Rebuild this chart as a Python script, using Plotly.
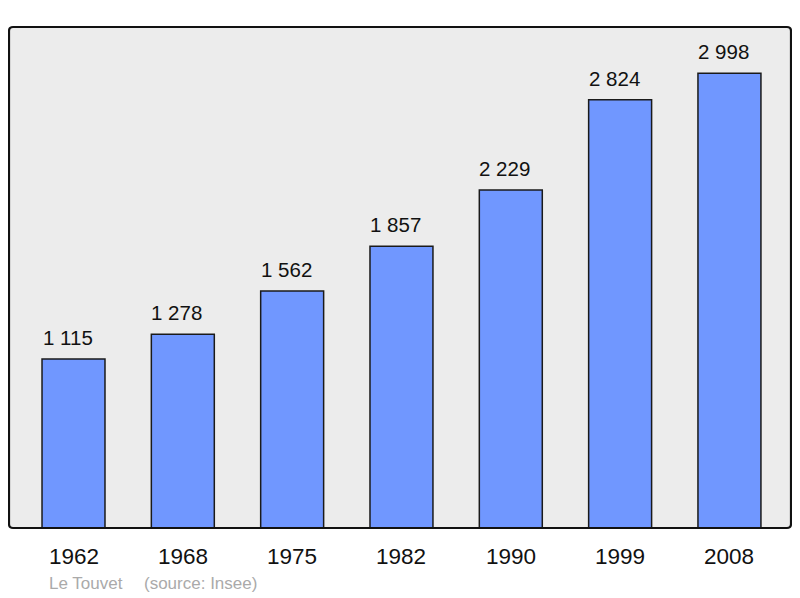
import plotly.graph_objects as go

years = ["1962", "1968", "1975", "1982", "1990", "1999", "2008"]
population = [1115, 1278, 1562, 1857, 2229, 2824, 2998]
commune = "Le Touvet"
source = "(source: Insee)"

xpos = list(range(len(years)))

def fmt(v):
    return f"{v:,}".replace(",", " ")

fig = go.Figure()
fig.add_trace(go.Bar(
    x=xpos, y=population, width=0.576,
    marker=dict(color="#7097ff", line=dict(color="#1a1a1a", width=1.5)),
    hoverinfo="skip",
))

W, H = 782.0, 501.0
annotations = []
for xi, v in zip(xpos, population):
    annotations.append(dict(x=xi, y=v, xref="x", yref="y", text=fmt(v),
                            showarrow=False, yanchor="bottom", yshift=8,
                            xshift=-6, font=dict(size=20.5, color="#111")))
for xi, yr in zip(xpos, years):
    annotations.append(dict(x=xi, y=0, xref="x", yref="paper", text=yr,
                            showarrow=False, yanchor="top", yshift=-14,
                            font=dict(size=22.5, color="#111")))
annotations.append(dict(x=(47 - 9) / W, y=-0.088, xref="paper", yref="paper", text=commune,
                        showarrow=False, xanchor="left", yanchor="top",
                        font=dict(size=17, color="#aaaaaa")))
annotations.append(dict(x=(142 - 9) / W, y=-0.088, xref="paper", yref="paper", text=source,
                        showarrow=False, xanchor="left", yanchor="top",
                        font=dict(size=17, color="#aaaaaa")))

# rounded plot-area border
r = 4
rx, ry = r / W, r / H
path = (f"M {rx},0 L {1-rx},0 Q 1,0 1,{ry} L 1,{1-ry} Q 1,1 {1-rx},1 "
        f"L {rx},1 Q 0,1 0,{1-ry} L 0,{ry} Q 0,0 {rx},0 Z")

fig.update_layout(
    width=792, height=590,
    margin=dict(l=1, r=9, t=19, b=70),
    paper_bgcolor="white",
    plot_bgcolor="#ececec",
    font=dict(family="Liberation Sans, Arial, sans-serif"),
    showlegend=False,
    xaxis=dict(range=[-0.59, 6.563], showgrid=False, zeroline=False,
               showticklabels=False, ticks=""),
    yaxis=dict(range=[0, 3303], showgrid=False, zeroline=False,
               showticklabels=False, ticks=""),
    annotations=annotations,
    shapes=[dict(type="path", xref="paper", yref="paper", path=path,
                 line=dict(color="#111", width=2.2), layer="above")],
)

fig.write_html("out.html")
